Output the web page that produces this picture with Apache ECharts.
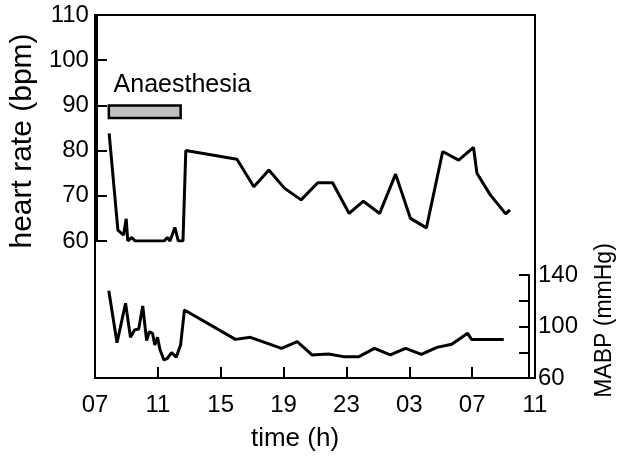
<!DOCTYPE html>
<html>
<head>
<meta charset="utf-8">
<script src="https://cdn.jsdelivr.net/npm/echarts@6/dist/echarts.min.js"></script>
<style>
  html, body { margin: 0; padding: 0; background: #fff; }
  #chart { width: 624px; height: 458px; }
</style>
</head>
<body>
<div id="chart"></div>
<script>
// time in hours since midnight of day 1 (07 -> 7, next-day 11 -> 35)
var hrTime = [7.78, 8.34, 8.70, 8.87, 8.97, 9.23, 9.44, 11.3, 11.5, 11.67, 11.98, 12.2, 12.5,
  12.68, 15.95, 17.03, 17.99, 18.98, 20.05, 21.11, 22.06, 23.12, 24.03, 25.07, 26.09,
  27.04, 28.06, 29.1, 30.12, 31.07, 31.29, 32.14, 33.13, 33.4];
var hrValue = [83.8, 62.4, 61.3, 64.9, 60, 60.8, 60, 60, 60.8, 60, 63, 60, 60,
  80, 78.1, 72, 75.7, 71.7, 69.1, 72.9, 72.9, 66.1, 68.8, 66.1, 74.8,
  65.0, 62.9, 79.8, 77.9, 80.7, 75, 70.2, 66, 66.9];

var mabpTime = [7.89, 8.42, 8.97, 9.29, 9.55, 9.82, 10.08, 10.33, 10.5, 10.71, 10.86, 11.03,
  11.2, 11.45, 11.67, 11.94, 12.24, 12.52, 12.77, 16.06, 17.03, 19.03, 20.05, 21.0,
  22.06, 23.02, 24.03, 25.03, 26.05, 27.04, 28.06, 29.06, 30.02, 31.04, 31.29, 33.37];
var mabpValue = [127.8, 87.4, 118, 91.6, 97.3, 98, 115.9, 89, 96, 94.7, 85.6, 91.6,
  81.7, 74, 75.3, 79.7, 76.1, 85.6, 112.8, 90, 91.6, 83, 88.2, 77.9,
  78.6, 76.6, 76.6, 83, 77.9, 83, 78.4, 83.8, 86.2, 94.7, 90, 90];

var xTicks = [7, 11, 15, 19, 23, 27, 31, 35];
var anaesthesia = { label: 'Anaesthesia', start: 7.76, end: 12.35 };

var font = 'Liberation Sans, Arial, sans-serif';

function pairs(xs, ys) {
  return xs.map(function (x, i) { return [x, ys[i]]; });
}

var chart = echarts.init(document.getElementById('chart'));

chart.setOption({
  animation: false,
  backgroundColor: '#fff',
  textStyle: { fontFamily: font, color: '#000' },
  grid: [
    { left: 95, right: 89, top: 15, bottom: 80, show: true, borderColor: '#000', borderWidth: 2, backgroundColor: 'transparent' },
    { left: 95, right: 89, top: 15, height: 226 },
    { left: 95, right: 89, top: 275, height: 103 }
  ],
  xAxis: [
    {
      gridIndex: 0, type: 'value', min: xTicks[0], max: xTicks[xTicks.length - 1], interval: 4,
      axisLine: { lineStyle: { color: '#000', width: 2 } },
      axisTick: { inside: true, length: 11, lineStyle: { color: '#000', width: 2 } },
      splitLine: { show: false },
      axisLabel: {
        fontSize: 24, color: '#000', fontFamily: font, margin: 15,
        formatter: function (v) { var h = v % 24; return (h < 10 ? '0' : '') + h; }
      },
      name: 'time (h)', nameLocation: 'middle', nameGap: 48,
      nameTextStyle: { fontSize: 26, color: '#000', fontFamily: font, padding: [0, 40, 0, 0] }
    },
    { gridIndex: 1, type: 'value', min: 7, max: 35, show: false },
    { gridIndex: 2, type: 'value', min: 7, max: 35, show: false }
  ],
  yAxis: [
    { gridIndex: 0, type: 'value', min: 0, max: 1, show: false },
    {
      gridIndex: 1, type: 'value', min: 60, max: 110, interval: 10, position: 'left',
      axisLine: { show: true, lineStyle: { color: '#000', width: 2 } },
      axisTick: { show: true, inside: true, length: 10, lineStyle: { color: '#000', width: 2 } },
      splitLine: { show: false },
      axisLabel: { fontSize: 24, color: '#000', fontFamily: font, margin: 8 },
      name: 'heart rate (bpm)', nameLocation: 'middle', nameGap: 57,
      nameTextStyle: { fontSize: 30, color: '#000', fontFamily: font, padding: [0, 26, 0, 0] }
    },
    {
      gridIndex: 2, type: 'value', min: 60, max: 140, interval: 20, position: 'right',
      axisLine: { show: true, lineStyle: { color: '#000', width: 2 } },
      axisTick: { show: true, inside: true, length: 10, lineStyle: { color: '#000', width: 2 } },
      splitLine: { show: false },
      axisLabel: {
        fontSize: 24, color: '#000', fontFamily: font, margin: 9,
        formatter: function (v) { return (v - 60) % 40 === 0 ? v : ''; }
      },
      name: 'MABP (mmHg)', nameLocation: 'middle', nameGap: 64,
      nameTextStyle: { fontSize: 23, color: '#000', fontFamily: font, padding: [0, 0, 0, 12] }
    }
  ],
  series: [
    {
      name: 'heart rate', type: 'line', xAxisIndex: 1, yAxisIndex: 1,
      data: pairs(hrTime, hrValue), showSymbol: false, symbol: 'none',
      lineStyle: { color: '#000', width: 3 },
      markArea: {
        silent: true,
        itemStyle: { color: '#c0c0c0', borderColor: '#000', borderWidth: 2.5 },
        label: {
          show: true, position: [6, -32], fontSize: 25, color: '#000', fontFamily: font
        },
        data: [[
          { name: anaesthesia.label, coord: [anaesthesia.start, 90] },
          { coord: [anaesthesia.end, 87.2] }
        ]]
      }
    },
    {
      name: 'MABP', type: 'line', xAxisIndex: 2, yAxisIndex: 2,
      data: pairs(mabpTime, mabpValue), showSymbol: false, symbol: 'none',
      lineStyle: { color: '#000', width: 3 }
    }
  ]
});
</script>
</body>
</html>
